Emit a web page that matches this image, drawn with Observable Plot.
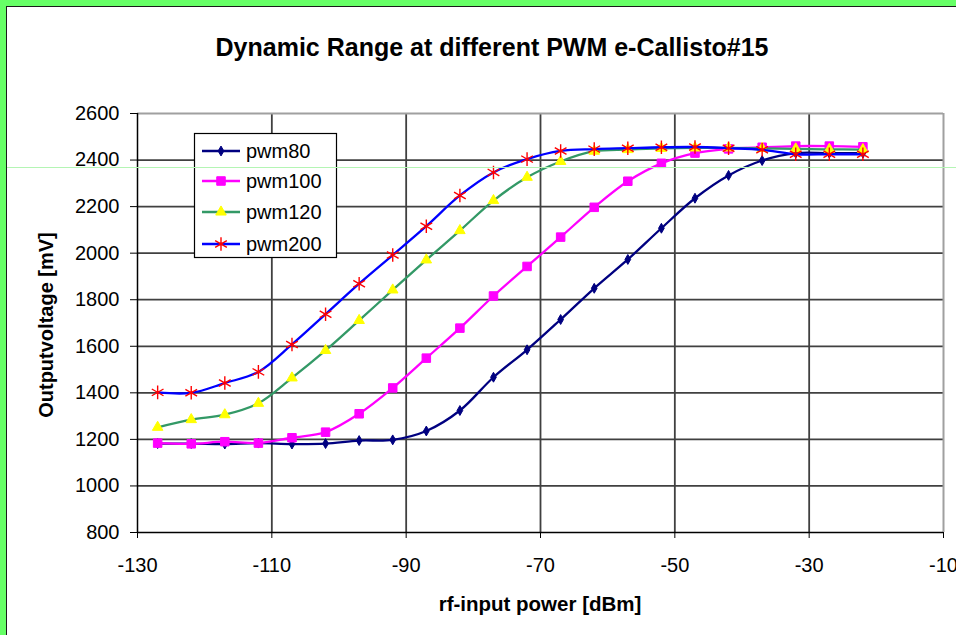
<!DOCTYPE html>
<html>
<head>
<meta charset="utf-8">
<script src="https://cdn.jsdelivr.net/npm/d3@7"></script>
<script src="https://cdn.jsdelivr.net/npm/@observablehq/plot@0.6"></script>
<style>
html, body { margin: 0; padding: 0; }
body { width: 956px; height: 635px; position: relative; overflow: hidden; background: #66ff66; font-family: "Liberation Sans", Arial, sans-serif; }
#panel { position: absolute; left: 6px; top: 6px; right: 0; bottom: 0; background: #fff; border-top: 1px solid #1a1a1a; border-left: 1px solid #1a1a1a; }
#chart { position: absolute; left: 0; top: 0; }
#chart svg { overflow: visible; }
.title { position: absolute; left: 492px; top: 35px; transform: translateX(-50%); font-weight: bold; font-size: 25px; line-height: 25px; white-space: nowrap; color: #000; }
.xlabel { position: absolute; left: 540px; top: 594px; transform: translateX(-50%); font-weight: bold; font-size: 20.5px; line-height: 20px; white-space: nowrap; color: #000; }
.ylabel { position: absolute; left: 0; top: 0; width: 300px; text-align: center; font-weight: bold; font-size: 20px; line-height: 20px; white-space: nowrap; color: #000; transform: translate(-103.6px, 315px) rotate(-90deg); transform-origin: 150px 10px; }
#legend { position: absolute; left: 194px; top: 133px; }
.artifact { position: absolute; left: 7px; right: 0; top: 167px; height: 1px; background: #b4f5b4; pointer-events: none; }
</style>
</head>
<body>
<div id="panel"></div>
<div id="chart"></div>
<div class="title">Dynamic Range at different PWM e-Callisto#15</div>
<div class="xlabel">rf-input power [dBm]</div>
<div class="ylabel">Outputvoltage [mV]</div>
<div id="legend"></div>
<div class="artifact"></div>
<script>
// ---- data ----
const dbm = [-127, -122, -117, -112, -107, -102, -97, -92, -87, -82, -77, -72, -67, -62, -57, -52, -47, -42, -37, -32, -27, -22];
const pwm80  = [1182, 1182, 1180, 1184, 1180, 1182, 1195, 1198, 1236, 1324, 1467, 1585, 1715, 1849, 1973, 2107, 2236, 2334, 2398, 2430, 2430, 2430];
const pwm100 = [1184, 1181, 1190, 1184, 1207, 1231, 1310, 1421, 1549, 1678, 1816, 1943, 2069, 2197, 2309, 2386, 2430, 2448, 2455, 2460, 2460, 2457];
const pwm120 = [1252, 1285, 1306, 1355, 1464, 1582, 1711, 1842, 1971, 2097, 2226, 2326, 2394, 2438, 2445, 2450, 2452, 2452, 2450, 2448, 2446, 2445];
const pwm200 = [1402, 1400, 1442, 1490, 1608, 1738, 1869, 1992, 2116, 2248, 2347, 2404, 2439, 2447, 2451, 2455, 2456, 2451, 2444, 2425, 2425, 2425];
const seriesNames = ["pwm80", "pwm100", "pwm120", "pwm200"];
const seriesValues = [pwm80, pwm100, pwm120, pwm200];
const xTicks = [-130, -110, -90, -70, -50, -30, -10];
const yTicks = [800, 1000, 1200, 1400, 1600, 1800, 2000, 2200, 2400, 2600];

// ---- styles ----
const lineColors = ["#000080", "#ff00ff", "#339966", "#0000ff"];
const markerSymbols = ["diamond", "square", "triangle", "asterisk"];
const markerFill = ["#000080", "#ff00ff", "#ffff00", "none"];
const markerStroke = ["#000080", "#ff00ff", "#ffff00", "#ff0000"];
const markerR = [3, 4.8, 3.9, 6.4];

const rows = seriesNames.flatMap((s, i) => dbm.map((x, j) => ({series: s, dbm: x, mv: seriesValues[i][j]})));

const seriesMarks = seriesNames.flatMap((s, i) => {
  const d = rows.filter(r => r.series === s);
  return [
    Plot.line(d, {x: "dbm", y: "mv", stroke: lineColors[i], strokeWidth: 2.3, curve: "catmull-rom"}),
    Plot.dot(d, {x: "dbm", y: "mv", symbol: () => markerSymbols[i], r: markerR[i], fill: markerFill[i], stroke: markerStroke[i], strokeWidth: i === 3 ? 1.4 : 1})
  ];
});

const chart = Plot.plot({
  width: 956,
  height: 635,
  marginLeft: 137,
  marginRight: 13,
  marginTop: 113,
  marginBottom: 103,
  style: {fontFamily: "'Liberation Sans', Arial, sans-serif", fontSize: "20px", color: "#000", background: "transparent", overflow: "visible"},
  x: {domain: [-130, -10]},
  y: {domain: [800, 2600]},
  marks: [
    Plot.gridX(xTicks.slice(1, -1), {stroke: "#404040", strokeOpacity: 1, strokeWidth: 1.8}),
    Plot.gridY(yTicks.slice(1, -1), {stroke: "#404040", strokeOpacity: 1, strokeWidth: 1.8}),
    Plot.ruleY([yTicks[yTicks.length - 1]], {stroke: "#a0a0a0", strokeWidth: 2}),
    Plot.ruleX([xTicks[xTicks.length - 1]], {stroke: "#a0a0a0", strokeWidth: 2}),
    Plot.ruleX([xTicks[0]], {stroke: "#000", strokeWidth: 1.5}),
    Plot.ruleY([yTicks[0]], {stroke: "#000", strokeWidth: 1.5}),
    Plot.axisX(xTicks, {tickSize: 6, tickPadding: 19, fontSize: 20, label: null, tickFormat: d => String(d)}),
    Plot.axisY(yTicks, {tickSize: 7, tickPadding: 11, fontSize: 20, label: null, tickFormat: d => String(d)}),
    ...seriesMarks
  ]
});
document.getElementById("chart").appendChild(chart);

// ---- legend ----
const lw = 143, lh = 125;
const lg = d3.select("#legend").append("svg").attr("width", lw).attr("height", lh).style("overflow", "visible");
lg.append("rect").attr("x", 0.5).attr("y", 0.5).attr("width", lw - 1).attr("height", lh - 1).attr("fill", "#fff").attr("stroke", "#000").attr("stroke-width", 1.2);
const rowY = [18, 48, 79, 111];
const symMap = {diamond: d3.symbolDiamond, square: d3.symbolSquare, triangle: d3.symbolTriangle, asterisk: d3.symbolAsterisk};
seriesNames.forEach((s, i) => {
  const g = lg.append("g").attr("transform", `translate(0,${rowY[i]})`);
  g.append("line").attr("x1", 8).attr("x2", 46).attr("y1", 0).attr("y2", 0).attr("stroke", lineColors[i]).attr("stroke-width", 2.3);
  g.append("path").attr("transform", "translate(27,0)")
    .attr("d", d3.symbol(symMap[markerSymbols[i]], markerR[i] * markerR[i] * Math.PI)())
    .attr("fill", markerFill[i]).attr("stroke", markerStroke[i]).attr("stroke-width", i === 3 ? 1.4 : 1);
  g.append("text").attr("x", 52).attr("y", 7).attr("font-size", 20).attr("font-family", "'Liberation Sans', Arial, sans-serif").attr("fill", "#000").text(s);
});
</script>
</body>
</html>
